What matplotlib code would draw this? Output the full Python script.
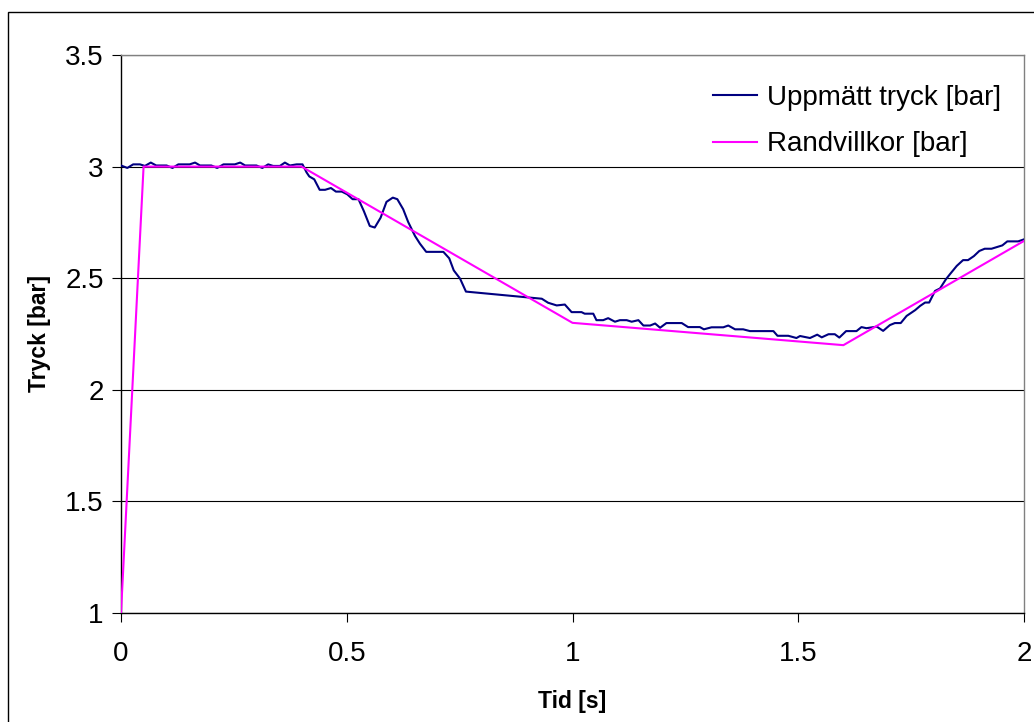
from __future__ import annotations

import matplotlib

matplotlib.use("Agg")
import matplotlib.pyplot as plt
from matplotlib.patches import Rectangle

time_measured = [
    0.000, 0.014, 0.027, 0.042, 0.053, 0.066, 0.078, 0.101, 0.114, 0.127,
    0.152, 0.164, 0.175, 0.200, 0.213, 0.227, 0.252, 0.264, 0.275, 0.300,
    0.313, 0.326, 0.337, 0.352, 0.363, 0.374, 0.389, 0.402, 0.411, 0.417,
    0.428, 0.440, 0.452, 0.465, 0.476, 0.489, 0.501, 0.513, 0.526, 0.538,
    0.551, 0.562, 0.575, 0.588, 0.602, 0.612, 0.625, 0.636, 0.651, 0.662,
    0.676, 0.714, 0.727, 0.737, 0.751, 0.764, 0.932, 0.946, 0.965, 0.983,
    0.998, 1.020, 1.027, 1.046, 1.053, 1.068, 1.079, 1.094, 1.105, 1.120,
    1.131, 1.146, 1.157, 1.172, 1.183, 1.194, 1.208, 1.242, 1.256, 1.282,
    1.291, 1.308, 1.334, 1.345, 1.360, 1.378, 1.393, 1.445, 1.454, 1.478,
    1.496, 1.504, 1.526, 1.542, 1.552, 1.567, 1.581, 1.591, 1.606, 1.629,
    1.640, 1.651, 1.674, 1.688, 1.703, 1.714, 1.727, 1.740, 1.759, 1.770,
    1.781, 1.790, 1.803, 1.814, 1.827, 1.836, 1.851, 1.865, 1.876, 1.889,
    1.901, 1.913, 1.928, 1.939, 1.952, 1.963, 1.987, 2.000,
]
pressure_measured = [
    3.005, 2.994, 3.010, 3.010, 3.003, 3.018, 3.005, 3.005, 2.994, 3.010,
    3.010, 3.018, 3.005, 3.005, 2.994, 3.010, 3.010, 3.018, 3.005, 3.005,
    2.994, 3.010, 3.003, 3.003, 3.018, 3.005, 3.010, 3.010, 2.974, 2.956,
    2.943, 2.896, 2.896, 2.904, 2.888, 2.888, 2.876, 2.854, 2.854, 2.800,
    2.734, 2.727, 2.771, 2.842, 2.861, 2.854, 2.809, 2.752, 2.690, 2.655,
    2.618, 2.618, 2.589, 2.535, 2.498, 2.440, 2.408, 2.390, 2.378, 2.382,
    2.348, 2.348, 2.341, 2.341, 2.312, 2.312, 2.321, 2.305, 2.312, 2.312,
    2.305, 2.312, 2.288, 2.288, 2.297, 2.278, 2.299, 2.299, 2.281, 2.281,
    2.271, 2.280, 2.280, 2.288, 2.271, 2.271, 2.263, 2.263, 2.242, 2.242,
    2.232, 2.241, 2.232, 2.247, 2.235, 2.249, 2.249, 2.234, 2.263, 2.263,
    2.281, 2.276, 2.283, 2.264, 2.290, 2.299, 2.299, 2.331, 2.357, 2.376,
    2.391, 2.391, 2.443, 2.454, 2.495, 2.518, 2.555, 2.581, 2.581, 2.599,
    2.622, 2.632, 2.632, 2.639, 2.647, 2.665, 2.665, 2.674,
]

# Boundary condition
time_boundary = [0.0, 0.05, 0.4, 1.0, 1.6, 2.0]
pressure_boundary = [1.0, 3.0, 3.0, 2.3, 2.2, 2.667]

x_ticks = [0, 0.5, 1, 1.5, 2]
x_tick_labels = ["0", "0.5", "1", "1.5", "2"]
y_ticks = [1, 1.5, 2, 2.5, 3, 3.5]
y_tick_labels = ["1", "1.5", "2", "2.5", "3", "3.5"]

series_labels = ["Uppmätt tryck [bar]", "Randvillkor [bar]"]

W, H = 1034, 722


def main() -> None:
    plt.rcParams["font.family"] = ["Liberation Sans", "DejaVu Sans"]

    fig = plt.figure(figsize=(W / 100, H / 100), dpi=100)
    ax = fig.add_axes([121 / W, 1 - 613 / H, (1024 - 121) / W, (613 - 55) / H])

    # Outer chart frame, runs off the right and bottom edge
    fig.patches.append(
        Rectangle(
            (8 / W, -0.05), 1.2, 1 - 12 / H + 0.05,
            transform=fig.transFigure, fill=False,
            edgecolor="black", linewidth=1.0,
        )
    )

    ax.plot(time_measured, pressure_measured, color="#000080",
            linewidth=1.5, label=series_labels[0], zorder=3)
    ax.plot(time_boundary, pressure_boundary, color="#FF00FF",
            linewidth=1.5, label=series_labels[1], zorder=4)

    ax.set_xlim(0, 2)
    ax.set_ylim(1, 3.5)
    ax.set_xticks(x_ticks)
    ax.set_xticklabels(x_tick_labels)
    ax.set_yticks(y_ticks)
    ax.set_yticklabels(y_tick_labels)
    ax.tick_params(axis="both", direction="out", length=6.5, width=0.8,
                   labelsize=20, color="black")
    ax.tick_params(axis="x", pad=14)
    ax.tick_params(axis="y", pad=6)

    ax.grid(True, axis="y", color="black", linewidth=0.8)
    ax.set_axisbelow(True)

    for side in ["top", "right"]:
        ax.spines[side].set_color("#808080")
        ax.spines[side].set_linewidth(1.0)
    for side in ["left", "bottom"]:
        ax.spines[side].set_color("black")
        ax.spines[side].set_linewidth(1.0)

    ax.set_xlabel("Tid [s]", fontsize=16.5, fontweight="bold", labelpad=16)
    ax.set_ylabel("Tryck [bar]", fontsize=16.5, fontweight="bold", labelpad=10)

    ax.legend(
        loc="upper left",
        bbox_to_anchor=(699 / W, 1 - 71 / H),
        bbox_transform=fig.transFigure,
        frameon=False,
        fontsize=20,
        borderpad=0,
        handlelength=1.6,
        handletextpad=0.35,
        labelspacing=0.74,
    )

    fig.savefig("out.png", dpi=100)
    plt.close(fig)


if __name__ == "__main__":
    main()
